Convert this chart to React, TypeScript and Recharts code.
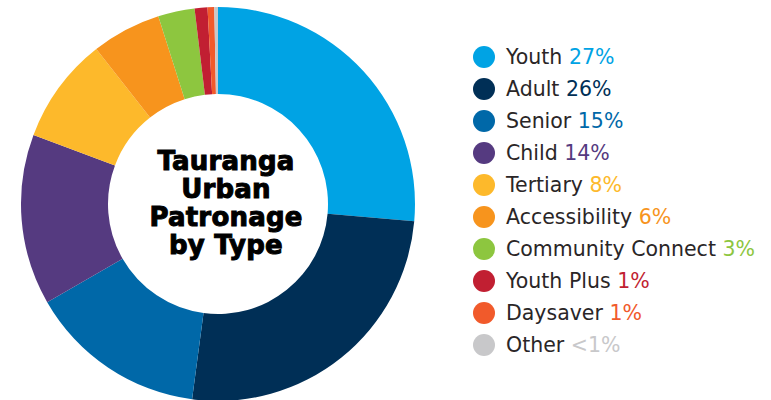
import { PieChart, Pie, Cell } from "recharts";

const categories = [
  "Youth",
  "Adult",
  "Senior",
  "Child",
  "Tertiary",
  "Accessibility",
  "Community Connect",
  "Youth Plus",
  "Daysaver",
  "Other",
];
const shares = [26.4, 25.7, 14.6, 14.0, 8.7, 5.7, 3.0, 1.05, 0.55, 0.3];
const shareLabels = ["27%", "26%", "15%", "14%", "8%", "6%", "3%", "1%", "1%", "<1%"];
const colors = [
  "#00a3e4",
  "#002f56",
  "#0068a8",
  "#553a80",
  "#fdb92b",
  "#f7941d",
  "#8dc63f",
  "#c11f32",
  "#f15a2b",
  "#c8c8ca",
];
const titleLines = ["Tauranga", "Urban", "Patronage", "by Type"];

const data = categories.map((name, i) => ({ name, value: shares[i] }));

export default function App() {
  return (
    <div style={{ position: "absolute", left: 0, top: 0, width: 771, height: 400, background: "#fff", overflow: "hidden" }}>
      <PieChart width={771} height={400} margin={{ top: 0, right: 0, bottom: 0, left: 0 }}>
        <Pie
          data={data}
          dataKey="value"
          nameKey="name"
          cx={218}
          cy={204}
          innerRadius={110}
          outerRadius={197}
          startAngle={90}
          endAngle={-270}
          stroke="none"
          isAnimationActive={false}
        >
          {data.map((d, i) => (
            <Cell key={d.name} fill={colors[i]} />
          ))}
        </Pie>
      </PieChart>

      {/* centre title */}
      <div
        style={{
          position: "absolute",
          left: 124,
          top: 147,
          width: 204,
          textAlign: "center",
          fontFamily: "'DejaVu Sans', sans-serif",
          fontWeight: 700,
          fontSize: 26,
          lineHeight: "28px",
          letterSpacing: "0.2px",
          WebkitTextStroke: "1px #000",
          color: "#000",
        }}
      >
        {titleLines.map((t) => (
          <div key={t}>{t}</div>
        ))}
      </div>

      {/* legend */}
      <div style={{ position: "absolute", left: 473, top: 41, fontFamily: "'DejaVu Sans', sans-serif" }}>
        {categories.map((name, i) => (
          <div key={name} style={{ display: "flex", alignItems: "center", height: 32 }}>
            <span
              style={{
                width: 22,
                height: 22,
                borderRadius: "50%",
                background: colors[i],
                display: "inline-block",
                marginRight: 11,
                flexShrink: 0,
              }}
            />
            <span style={{ fontSize: 20.5, color: "#2a2627", whiteSpace: "nowrap" }}>
              {name} <span style={{ color: colors[i] }}>{shareLabels[i]}</span>
            </span>
          </div>
        ))}
      </div>
    </div>
  );
}
